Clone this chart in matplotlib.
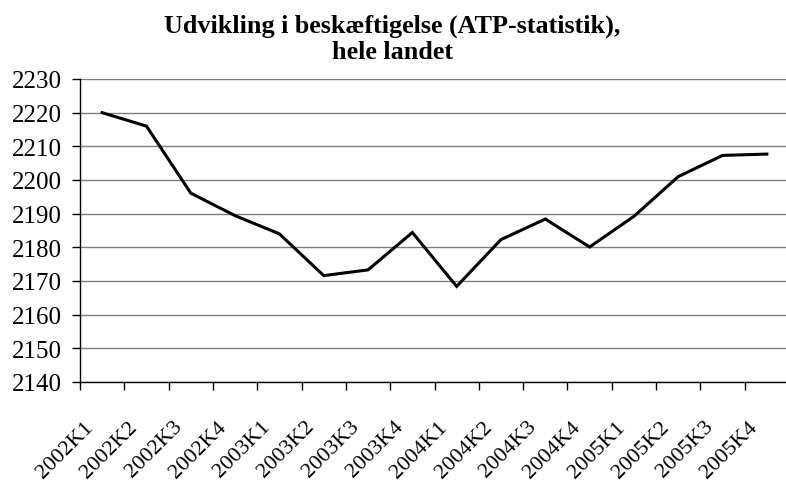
import matplotlib
matplotlib.use("Agg")
import matplotlib.pyplot as plt
from matplotlib.ticker import FixedLocator, NullFormatter

categories = ["2002K1", "2002K2", "2002K3", "2002K4",
              "2003K1", "2003K2", "2003K3", "2003K4",
              "2004K1", "2004K2", "2004K3", "2004K4",
              "2005K1", "2005K2", "2005K3", "2005K4"]
values = [2220.0, 2216.0, 2196.1, 2189.4,
          2184.0, 2171.6, 2173.3, 2184.4,
          2168.4, 2182.3, 2188.4, 2180.1,
          2189.2, 2201.0, 2207.3, 2207.7]
yticks = list(range(2140, 2231, 10))

plt.rcParams['font.family'] = ['Liberation Serif', 'DejaVu Serif']

fig = plt.figure(figsize=(7.86, 4.81), dpi=100)
W, H = 786, 481
left, right, top, bottom = 80, 789, 80, 383
ax = fig.add_axes([left / W, 1 - bottom / H, (right - left) / W, (bottom - top) / H])

x = list(range(len(categories)))
ax.plot(x, values, color='black', linewidth=2.2, solid_joinstyle='miter')

ax.set_xlim(-0.5, len(categories) - 0.5)
ax.set_ylim(2140, 2230)
ax.set_yticks(yticks)
ax.set_yticklabels([str(v) for v in yticks], fontsize=18)
ax.yaxis.grid(True, color='#7f7f7f', linewidth=1.0)
ax.set_axisbelow(True)

# category boundary ticks
ax.xaxis.set_major_locator(FixedLocator([i - 0.5 for i in range(len(categories) + 1)]))
ax.xaxis.set_major_formatter(NullFormatter())
ax.tick_params(axis='x', direction='out', length=5.8, width=1, color='black')
ax.tick_params(axis='y', direction='out', length=5.8, width=1, color='black', pad=7)

for s in ['top', 'right']:
    ax.spines[s].set_visible(False)
for s in ['left', 'bottom']:
    ax.spines[s].set_color('black')
    ax.spines[s].set_linewidth(1.0)

# rotated category labels
for i, lab in enumerate(categories):
    ax.annotate(lab, xy=(i, 0), xycoords=('data', 'axes fraction'),
                xytext=(-8.5, -30), textcoords='offset points',
                rotation=45, rotation_mode='anchor', ha='right', va='center',
                fontsize=16)

fig.text(392 / W, 1 - 33 / H, "Udvikling i beskæftigelse (ATP-statistik),",
         ha='center', va='baseline', fontsize=18.8, fontweight='bold')
fig.text(392 / W, 1 - 59 / H, "hele landet",
         ha='center', va='baseline', fontsize=18.8, fontweight='bold')

fig.savefig("out.png", dpi=100)
